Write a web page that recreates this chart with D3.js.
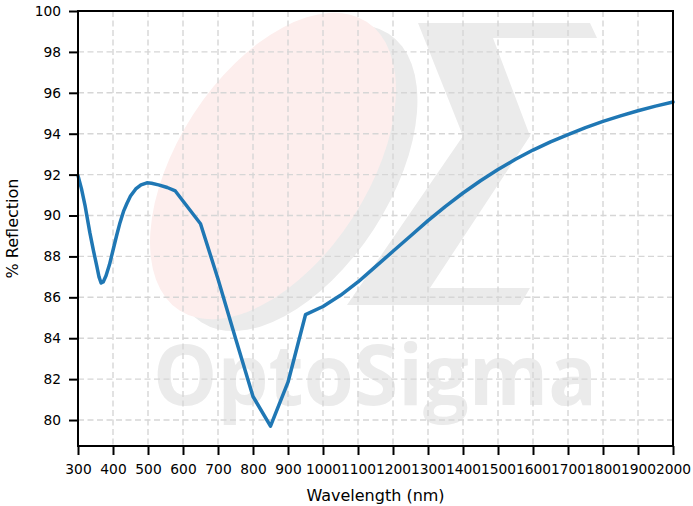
<!DOCTYPE html>
<html>
<head>
<meta charset="utf-8">
<script src="https://cdn.jsdelivr.net/npm/d3@7/dist/d3.min.js"></script>
<style>
  html, body { margin: 0; padding: 0; background: #fff; }
  svg { display: block; }
</style>
</head>
<body>
<svg id="chart" width="693" height="506"></svg>
<script>
// ---- Data ----
const wavelength = [300, 310, 320, 334, 344, 354, 360, 366, 372, 380, 390, 400, 410, 420, 430, 440, 450, 465, 480, 497, 510, 530, 555, 578,
  650, 700, 750, 800, 850, 900, 950, 1000, 1050, 1100, 1150, 1200, 1250, 1300, 1350, 1400, 1450, 1500, 1550, 1600, 1650, 1700, 1750, 1800, 1850, 1900, 1950, 2000];
const reflection = [91.95, 91.3, 90.5, 89.15, 88.3, 87.5, 87.0, 86.7, 86.75, 87.05, 87.6, 88.3, 89.0, 89.65, 90.2, 90.6, 90.95, 91.3, 91.5, 91.6, 91.58, 91.5, 91.37, 91.2,
  89.6, 86.9, 84.0, 81.15, 79.7, 81.85, 85.15, 85.55, 86.1, 86.75, 87.5, 88.25, 89.0, 89.75, 90.45, 91.1, 91.7, 92.25, 92.75, 93.2, 93.6, 93.95, 94.3, 94.6, 94.87, 95.12, 95.35, 95.55];
const xTicks = [300, 400, 500, 600, 700, 800, 900, 1000, 1100, 1200, 1300, 1400, 1500, 1600, 1700, 1800, 1900, 2000];
const yTicks = [80, 82, 84, 86, 88, 90, 92, 94, 96, 98, 100];
const xDomain = [300, 2000];
const yDomain = [78.73, 100];
const xLabel = "Wavelength (nm)";
const yLabel = "% Reflection";
const watermarkText = "OptoSigma";

// ---- Layout ----
const W = 693, H = 506;
const margin = { left: 78, right: 20, top: 11, bottom: 60 };
const iw = W - margin.left - margin.right;
const ih = H - margin.top - margin.bottom;
const font = "'DejaVu Sans', sans-serif";

const svg = d3.select("#chart");

// ---- Watermark (decorative logo, drawn first so it sits behind everything) ----
const wm = svg.append("g").attr("class", "watermark");
wm.append("ellipse")
  .attr("cx", 295).attr("cy", 178).attr("rx", 172).attr("ry", 94)
  .attr("transform", "rotate(-57 295 178)")
  .attr("fill", "#ebebeb");
wm.append("ellipse")
  .attr("cx", 273).attr("cy", 166).attr("rx", 172).attr("ry", 95)
  .attr("transform", "rotate(-57 273 166)")
  .attr("fill", "#fdeeed");
wm.append("path")
  .attr("d", "M418,23 L590,23 L597,38 L493,38 L530,136 L430,288 L530,288 L520,305 L347,305 L463,136 Z")
  .attr("fill", "#ebebeb");
wm.append("text")
  .attr("x", 153).attr("y", 405)
  .attr("textLength", 444).attr("lengthAdjust", "spacingAndGlyphs")
  .attr("font-family", "'Open Sans', 'DejaVu Sans', sans-serif")
  .attr("font-weight", 700)
  .attr("font-size", 84)
  .attr("fill", "#ebebeb")
  .text(watermarkText);

const g = svg.append("g").attr("transform", `translate(${margin.left},${margin.top})`);

const x = d3.scaleLinear().domain(xDomain).range([0, iw]);
const y = d3.scaleLinear().domain(yDomain).range([ih, 0]);

// ---- Grid ----
const grid = g.append("g").attr("class", "grid")
  .attr("stroke", "#d6d6d6").attr("stroke-width", 1.4).attr("stroke-dasharray", "6,3.5");
grid.selectAll("line.v").data(xTicks).join("line").attr("class", "v")
  .attr("x1", d => x(d)).attr("x2", d => x(d)).attr("y1", 0).attr("y2", ih);
grid.selectAll("line.h").data(yTicks).join("line").attr("class", "h")
  .attr("y1", d => y(d)).attr("y2", d => y(d)).attr("x1", 0).attr("x2", iw);

// ---- Line ----
const pts = wavelength.map((w, i) => [w, reflection[i]]);
const line = d3.line().x(d => x(d[0])).y(d => y(d[1])).curve(d3.curveLinear);
g.append("path").datum(pts)
  .attr("d", line)
  .attr("fill", "none")
  .attr("stroke", "#1f77b4")
  .attr("stroke-width", 3.5)
  .attr("stroke-linejoin", "round")
  .attr("stroke-linecap", "round");

// ---- Axes ----
const xAxis = d3.axisBottom(x).tickValues(xTicks).tickSize(9).tickPadding(9).tickFormat(d3.format("d"));
const yAxis = d3.axisLeft(y).tickValues(yTicks).tickSize(9).tickPadding(8).tickFormat(d3.format("d"));

const gx = g.append("g").attr("transform", `translate(0,${ih})`).call(xAxis);
const gy = g.append("g").call(yAxis);
[gx, gy].forEach(a => {
  a.select(".domain").remove();
  a.selectAll(".tick line").attr("stroke", "#000").attr("stroke-width", 2);
  a.selectAll(".tick text").attr("font-family", font).attr("font-size", 13.8).attr("fill", "#000");
});

// frame
g.append("rect").attr("x", 0).attr("y", 0).attr("width", iw).attr("height", ih)
  .attr("fill", "none").attr("stroke", "#000").attr("stroke-width", 2);

// ---- Axis labels ----
svg.append("text")
  .attr("x", margin.left + iw / 2).attr("y", 501)
  .attr("text-anchor", "middle")
  .attr("font-family", font).attr("font-size", 16).attr("fill", "#000")
  .text(xLabel);
svg.append("text")
  .attr("transform", `translate(18,${margin.top + ih / 2}) rotate(-90)`)
  .attr("text-anchor", "middle")
  .attr("font-family", font).attr("font-size", 16).attr("fill", "#000")
  .text(yLabel);
</script>
</body>
</html>
